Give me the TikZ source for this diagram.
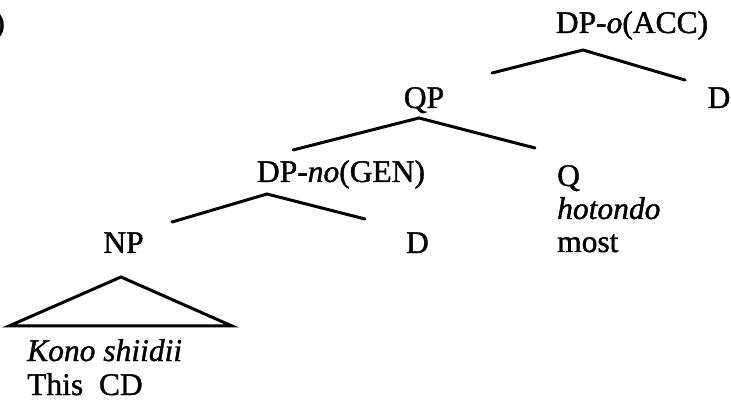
\documentclass[tikz,border=0pt]{standalone}
\usepackage{fontspec}
\setmainfont{Liberation Serif}[FakeBold=1.2]
\begin{document}
\begin{tikzpicture}[x=1pt,y=-1pt,
  lbl/.style={inner sep=0pt, anchor=base, font=\fontsize{31.5}{36}\selectfont},
  branch/.style={line width=3pt, line cap=round}]
\useasboundingbox (0,0) rectangle (731,403);
% labels
\node[lbl, anchor=base east] (num) at (5,33) {)};
\node[lbl] (dpo) at (632,33) {DP-\textit{o}(ACC)};
\node[lbl] (d1) at (719,108) {D};
\node[lbl] (qp) at (424,108) {QP};
\node[lbl] (dpno) at (341,182) {DP-\textit{no}(GEN)};
\node[lbl, anchor=base west] (q) at (557,186) {Q};
\node[lbl, anchor=base west] (hot) at (557,219) {\textit{hotondo}};
\node[lbl, anchor=base west] (most) at (557,252) {most};
\node[lbl] (np) at (123.5,253) {NP};
\node[lbl] (d2) at (417.5,253) {D};
\node[lbl, anchor=base west] (kono) at (27,361) {\textit{Kono shiidii}};
\node[lbl, anchor=base west] (this) at (27,395) {This\ \ CD};
% branch points
\coordinate (dpo-a) at (583,50);
\coordinate (dpo-l) at (492,73);
\coordinate (dpo-r) at (685,80);
\coordinate (qp-a) at (419,118);
\coordinate (qp-l) at (293,150);
\coordinate (qp-r) at (535,148);
\coordinate (dpno-a) at (267,194);
\coordinate (dpno-l) at (172,222);
\coordinate (dpno-r) at (365,219);
\coordinate (tri-a) at (121,277);
\coordinate (tri-l) at (9,326);
\coordinate (tri-r) at (232,326);
% branches
\draw[branch] (dpo-l) -- (dpo-a) -- (dpo-r);
\draw[branch] (qp-l) -- (qp-a) -- (qp-r);
\draw[branch] (dpno-l) -- (dpno-a) -- (dpno-r);
\draw[branch, line join=miter] (tri-l) -- (tri-a) -- (tri-r) -- cycle;
\end{tikzpicture}
\end{document}
